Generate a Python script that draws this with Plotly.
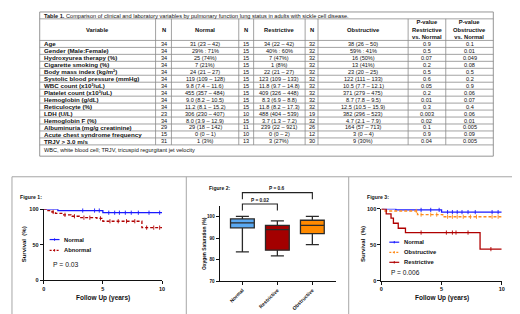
import plotly.graph_objects as go

W, H = 520, 314
FONT = "Liberation Sans"

# ---------------- Table data ----------------
variables = ["Age", "Gender (Male:Female)", "Hydroxyurea therapy (%)", "Cigarette smoking (%)",
             "Body mass index (kg/m²)", "Systolic blood pressure (mmHg)", "WBC count (x10³/uL)",
             "Platelet count (x10³/uL)", "Hemoglobin (g/dL)", "Reticulocyte (%)", "LDH (U/L)",
             "Hemoglobin F (%)", "Albuminuria (mg/g creatinine)", "Acute chest syndrome frequency",
             "TRJV > 3.0 m/s"]
n_normal = [34, 34, 34, 34, 34, 34, 34, 34, 34, 34, 23, 34, 29, 15, 31]
normal_vals = ["31 (23 – 42)", "29% : 71%", "25 (74%)", "7 (21%)", "24 (21 – 27)", "119 (109 – 128)",
               "9.8 (7.4 – 11.6)", "455 (357 – 484)", "9.0 (8.2 – 10.5)", "11.2 (8.1 – 15.2)",
               "306 (230 – 407)", "8.0 (3.9 – 12.9)", "29 (18 – 142)", "0 (0 – 1)", "1 (3%)"]
n_restrictive = [15, 15, 15, 15, 15, 15, 15, 15, 15, 15, 10, 15, 11, 10, 13]
restrictive_vals = ["34 (22 – 42)", "40% : 60%", "7 (47%)", "1 (8%)", "22 (21 – 27)", "123 (109 – 133)",
                    "11.8 (9.7 – 14.8)", "409 (326 – 448)", "8.3 (6.9 – 8.8)", "11.8 (8.2 – 17.3)",
                    "488 (404 – 539)", "3.7 (1.3 – 7.2)", "239 (22 – 921)", "0 (0 – 2)", "3 (27%)"]
n_obstructive = [32, 32, 32, 32, 32, 32, 32, 32, 32, 32, 19, 32, 26, 12, 30]
obstructive_vals = ["38 (26 – 50)", "59% : 41%", "16 (50%)", "13 (41%)", "23 (20 – 25)", "122 (111 – 133)",
                    "10.5 (7.7 – 12.1)", "371 (279 – 475)", "8.7 (7.8 – 9.5)", "12.5 (10.5 – 15.9)",
                    "382 (296 – 523)", "4.7 (2.1 – 7.9)", "164 (57 – 713)", "3 (0 – 4)", "9 (30%)"]
p_restrictive = ["0.9", "0.5", "0.07", "0.2", "0.5", "0.6", "0.05", "0.2", "0.01", "0.3", "0.003",
                 "0.02", "0.1", "0.9", "0.04"]
p_obstructive = ["0.1", "0.01", "0.049", "0.08", "0.5", "0.2", "0.9", "0.06", "0.07", "0.4", "0.06",
                 "0.01", "0.005", "0.09", "0.005"]
headers = ["Variable", "N", "Normal", "N", "Restrictive", "N", "Obstructive",
           "P-value<br>Restrictive<br>vs. Normal", "P-value<br>Obstructive<br>vs. Normal"]
table_title = "<b>Table 1.</b> Comparison of clinical and laboratory variables by pulmonary function lung status in adults with sickle cell disease."
table_note = "WBC, white blood cell; TRJV, tricuspid regurgitant jet velocity"

# ---------------- Figure 1 data (Kaplan-Meier) ----------------
f1_normal_t = [0, 1.2, 5.0, 10]
f1_normal_s = [100, 98, 95, 95]
f1_normal_cens = [3.3, 4.3, 4.7, 5.5, 6.0, 6.4, 6.9, 7.4, 8.0, 8.9, 9.8]
f1_abn_t = [0, 0.3, 0.7, 1.0, 1.6, 2.3, 3.0, 4.5, 5.0, 8.3, 10]
f1_abn_s = [100, 98, 96, 94, 92, 90, 88, 87, 83, 74, 74]
f1_abn_cens = [0.8, 1.8, 2.6, 3.4, 3.9, 4.8, 5.6, 6.3, 7.0, 7.7, 8.7, 9.3, 9.8]

# ---------------- Figure 2 data (box plot) ----------------
groups = ["Normal", "Restrictive", "Obstructive"]
box_low = [83.6, 81.8, 87.0]
box_q1 = [94.7, 84.4, 92.0]
box_med = [97.0, 93.9, 95.8]
box_q3 = [98.8, 95.8, 98.2]
box_high = [100.0, 97.9, 100.0]
box_colors = ["#5aa9f2", "#a30000", "#ff8a00"]

# ---------------- Figure 3 data (Kaplan-Meier) ----------------
f3_normal_t = [0, 1.2, 5.0, 10]
f3_normal_s = [100, 98.5, 95.5, 95.5]
f3_normal_cens = [3.3, 4.1, 4.8, 5.5, 5.9, 6.3, 6.7, 7.2, 7.8, 9.2, 9.7]
f3_obs_t = [0, 0.3, 3.0, 5.1, 10]
f3_obs_s = [100, 97, 92, 89, 89]
f3_obs_cens = [2.9, 3.3, 4.1, 4.6, 5.5, 5.9, 6.3, 6.8, 7.4, 7.9, 9.2, 9.7]
f3_res_t = [0, 0.4, 0.8, 1.0, 1.4, 2.0, 8.2, 10]
f3_res_s = [100, 93, 87, 80, 73, 67, 44, 44]
f3_res_cens = [3.3, 5.4, 5.9, 6.2, 7.2, 9.1]


def X(px):
    return px / W


def Y(py):
    return 1 - py / H


def surv_at(t, times, surv):
    v = surv[0]
    for ti, si in zip(times, surv):
        if ti <= t:
            v = si
    return v


fig = go.Figure()
shapes = []
ann = []

# ---------------- Table ----------------
GRID = "#8a8a8a"
col_edges = [30, 147, 163, 231, 246, 298, 311, 402, 440, 488]
t_top, title_bot, head_bot, row_h, t_bot = 1, 8, 30, 7.1, 148
rows_bot = head_bot + row_h * len(variables)


def line(x0, y0, x1, y1, color=GRID, width=0.8, dash=None):
    d = dict(type="line", xref="paper", yref="paper", x0=X(x0), y0=Y(y0), x1=X(x1), y1=Y(y1),
             line=dict(color=color, width=width))
    if dash:
        d["line"]["dash"] = dash
    shapes.append(d)


shapes.append(dict(type="rect", xref="paper", yref="paper", x0=X(30), x1=X(488), y0=Y(t_top), y1=Y(t_bot),
                   line=dict(color=GRID, width=0.9)))
line(30, title_bot, 488, title_bot)
line(30, head_bot, 488, head_bot)
for k in range(1, len(variables) + 1):
    yy = head_bot + row_h * k
    line(30, yy, 488, yy)
for xe in col_edges[1:-1]:
    line(xe, title_bot, xe, rows_bot)


def txt(x, y, s, size, anchor="center", bold=False, color="#111", yanchor="middle", xref="paper", yref="paper", angle=0):
    ann.append(dict(x=x, y=y, xref=xref, yref=yref, text=("<b>%s</b>" % s) if bold else s, showarrow=False,
                    xanchor=anchor, yanchor=yanchor, textangle=angle,
                    font=dict(family=FONT, size=size, color=color)))


txt(X(32), Y(4.6), table_title, 5.6, anchor="left")
txt(X(32), Y(141.5), table_note, 5.6, anchor="left")

for i, h in enumerate(headers):
    cx = (col_edges[i] + col_edges[i + 1]) / 2
    txt(X(cx), Y((title_bot + head_bot) / 2), "<b>%s</b>" % h.replace("<br>", "</b><br><b>"), 5.8)

cols = [n_normal, normal_vals, n_restrictive, restrictive_vals, n_obstructive, obstructive_vals,
        p_restrictive, p_obstructive]
for r, var in enumerate(variables):
    cy = head_bot + row_h * (r + 0.5)
    txt(X(32), Y(cy), var, 6.2, anchor="left", bold=True)
    for c, col in enumerate(cols):
        cx = (col_edges[c + 1] + col_edges[c + 2]) / 2
        txt(X(cx), Y(cy), str(col[r]), 5.6)

# ---------------- bottom panel frame ----------------
FRAME = "#a6a6a6"
shapes.append(dict(type="rect", xref="paper", yref="paper", x0=X(2), x1=X(517), y0=Y(169), y1=Y(311),
                   line=dict(color=FRAME, width=1)))
line(178, 169, 178, 311, color=FRAME, width=1)
line(342, 169, 342, 311, color=FRAME, width=1)

# ---------------- Survival curves ----------------
BLUE = "#1a1aff"
DRED = "#b00000"
ORANGE = "#ff8c1a"


def km(t, s, cens, color, dash, xa, ya):
    fig.add_trace(go.Scatter(x=t, y=s, mode="lines", line=dict(color=color, width=1.3, shape="hv", dash=dash),
                             xaxis=xa, yaxis=ya, showlegend=False, cliponaxis=False, hoverinfo="skip"))
    fig.add_trace(go.Scatter(x=cens, y=[surv_at(c, t, s) for c in cens], mode="markers",
                             marker=dict(symbol="line-ns", size=3, line=dict(color=color, width=0.9)),
                             xaxis=xa, yaxis=ya, showlegend=False, cliponaxis=False, hoverinfo="skip"))


km(f1_normal_t, f1_normal_s, f1_normal_cens, BLUE, "solid", "x", "y")
km(f1_abn_t, f1_abn_s, f1_abn_cens, DRED, "3px,2px", "x", "y")

km(f3_normal_t, f3_normal_s, f3_normal_cens, BLUE, "solid", "x3", "y3")
km(f3_obs_t, f3_obs_s, f3_obs_cens, ORANGE, "3px,2px", "x3", "y3")
km(f3_res_t, f3_res_s, f3_res_cens, DRED, "solid", "x3", "y3")

# ---------------- Figure 2 boxes ----------------
for g, lo, q1, md, q3, hi, col in zip(groups, box_low, box_q1, box_med, box_q3, box_high, box_colors):
    fig.add_trace(go.Box(x=[g], lowerfence=[lo], q1=[q1], median=[md], q3=[q3], upperfence=[hi],
                         fillcolor=col, line=dict(color="#2a2a2a", width=1.3), width=0.68,
                         whiskerwidth=0.55, boxpoints=False, xaxis="x2", yaxis="y2",
                         showlegend=False, hoverinfo="skip"))

axis_common = dict(showline=True, linecolor="#111", linewidth=1.1, ticks="outside", ticklen=3,
                   tickwidth=1, tickcolor="#111", showgrid=False, zeroline=False)

fig.update_layout(
    width=W, height=H, margin=dict(l=0, r=0, t=0, b=0), paper_bgcolor="white", plot_bgcolor="white",
    showlegend=False, boxmode="overlay",
    xaxis=dict(domain=[X(34), X(153.5)], range=[0, 10], tickvals=[0, 5, 10], anchor="y",
               tickfont=dict(family=FONT, size=5.5, color="#111", weight="bold"), **axis_common),
    yaxis=dict(domain=[Y(274.5), Y(202)], range=[0, 100], tickvals=[0, 50, 100], anchor="x",
               tickfont=dict(family=FONT, size=5.5, color="#111", weight="bold"), **axis_common),
    xaxis2=dict(domain=[X(211.7), X(329.3)], range=[-0.65, 2.68], type="category",
                categoryorder="array", categoryarray=groups, anchor="y2", tickangle=-45,
                tickfont=dict(family=FONT, size=5.0, color="#111", weight="bold"), **axis_common),
    yaxis2=dict(domain=[Y(275.7), Y(198.3)], range=[70, 105], tickvals=[70, 80, 90, 100], anchor="x2",
                tickfont=dict(family=FONT, size=4.6, color="#111", weight="bold"), **axis_common),
    xaxis3=dict(domain=[X(375), X(496.5)], range=[0, 10], tickvals=[0, 5, 10], anchor="y3",
                tickfont=dict(family=FONT, size=5.5, color="#111", weight="bold"), **axis_common),
    yaxis3=dict(domain=[Y(275), Y(201.7)], range=[0, 100], tickvals=[0, 50, 100], anchor="x3",
                tickfont=dict(family=FONT, size=5.5, color="#111", weight="bold"), **axis_common),
)

# ---- Figure 1 labels / legend ----
txt(X(8), Y(190), "Figure 1:", 5.2, anchor="left", bold=True)
txt(X(93.5), Y(292.5), "Follow Up (years)", 6.5, bold=True)
txt(X(15), Y(238), "Survival  (%)", 6.0, bold=True, angle=-90)
line(40, 233, 50, 233, color=BLUE, width=1.2)
line(45, 231.8, 45, 234.2, color=BLUE, width=1)
txt(X(53), Y(233), "Normal", 5.8, anchor="left", bold=True)
line(40, 244, 50, 244, color=DRED, width=1.2, dash="2px,1.5px")
line(45, 242.8, 45, 245.2, color=DRED, width=1)
txt(X(53), Y(244), "Abnormal", 5.8, anchor="left", bold=True)
txt(X(41), Y(258), "P = 0.03", 6.8, anchor="left")

# ---- Figure 2 labels / brackets ----
txt(X(199), Y(180.5), "Figure 2:", 5.0, anchor="left", bold=True)
txt(X(196.5), Y(237), "Oxygen Saturation (%)", 4.9, bold=True, angle=-90)
BR = "#222"
for (a, b, ytop, yleg, label, ylab) in [(0, 1, 196.7, 203.5, "P = 0.02", 193.2), (0, 2, 185.2, 192, "P = 0.6", 180.8)]:
    shapes.append(dict(type="path", xref="x2", yref="paper",
                       path="M %d,%f L %d,%f L %d,%f L %d,%f" % (a, Y(yleg), a, Y(ytop), b, Y(ytop), b, Y(yleg)),
                       line=dict(color=BR, width=1.1)))
    txt((a + b) / 2, Y(ylab), label, 4.8, bold=True, xref="x2")

# ---- Figure 3 labels / legend ----
txt(X(358), Y(190), "Figure 3:", 5.2, anchor="left", bold=True)
txt(X(436), Y(292.5), "Follow Up (years)", 6.5, bold=True)
txt(X(357), Y(238), "Survival  (%)", 6.0, bold=True, angle=-90)
for yy, col, dash, name in [(235.7, BLUE, None, "Normal"), (246, ORANGE, "2px,1.5px", "Obstructive"),
                            (256.2, DRED, None, "Restrictive")]:
    line(383, yy, 393, yy, color=col, width=1.2, dash=dash)
    line(388, yy - 1.2, 388, yy + 1.2, color=col, width=1)
    txt(X(396), Y(yy), name, 5.8, anchor="left", bold=True)
txt(X(383), Y(267), "P = 0.006", 6.6, anchor="left")

fig.update_layout(shapes=shapes, annotations=ann)
fig.write_html("out.html")
